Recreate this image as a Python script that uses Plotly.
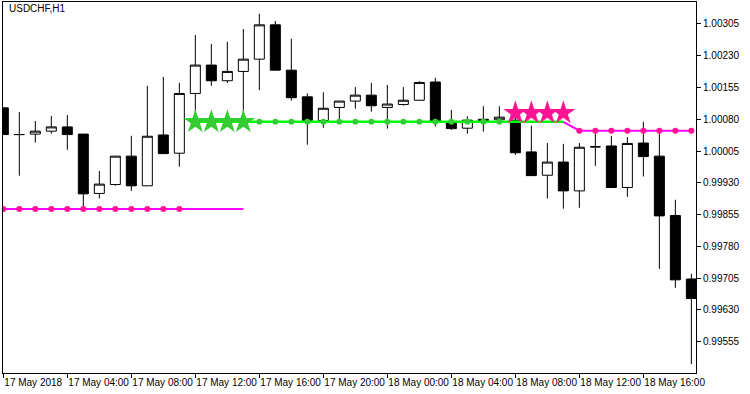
import plotly.graph_objects as go

# ---- data (H1 bars, index 0 = 17 May 2018 00:00) ----
bar_index = list(range(44))
opens = [1.00107, 1.00044, 1.00045, 1.00052, 1.00062, 1.00045, 0.99905, 0.99926, 0.99993, 0.99923,
         1.00043, 1.00000, 1.00141, 1.00208, 1.00171, 1.00193, 1.00222, 1.00303, 1.00196, 1.00133,
         1.00077, 1.00108, 1.00123, 1.00137, 1.00108, 1.00115, 1.00125, 1.00168, 1.00074, 1.00059,
         1.00080, 1.00079, 1.00078, 1.00003, 0.99948, 0.99979, 0.99911, 1.00015, 1.00017, 0.99919,
         1.00024, 0.99993, 0.99853, 0.99703]
highs = [1.00107, 1.00097, 1.00076, 1.00088, 1.00090, 1.00045, 0.99958, 0.99993, 1.00041, 1.00159,
         1.00180, 1.00166, 1.00279, 1.00258, 1.00263, 1.00293, 1.00329, 1.00312, 1.00270, 1.00141,
         1.00144, 1.00123, 1.00156, 1.00166, 1.00161, 1.00156, 1.00170, 1.00178, 1.00102, 1.00087,
         1.00111, 1.00111, 1.00102, 1.00065, 1.00024, 1.00022, 1.00024, 1.00052, 1.00041, 1.00038,
         1.00074, 1.00048, 0.99890, 0.99715]
lows = [1.00044, 0.99947, 1.00025, 1.00046, 1.00008, 0.99874, 0.99893, 0.99923, 0.99911, 0.99923,
        0.99999, 0.99968, 1.00083, 1.00159, 1.00166, 1.00085, 1.00149, 1.00195, 1.00124, 1.00020,
        1.00060, 1.00076, 1.00105, 1.00098, 1.00058, 1.00112, 1.00125, 1.00063, 1.00055, 1.00046,
        1.00051, 1.00076, 0.99996, 0.99947, 0.99893, 0.99869, 0.99871, 0.99970, 0.99919, 0.99897,
        0.99945, 0.99727, 0.99682, 0.99502]
closes = [1.00044, 1.00044, 1.00052, 1.00062, 1.00044, 0.99904, 0.99927, 0.99993, 0.99923, 1.00040,
          0.99999, 1.00141, 1.00208, 1.00171, 1.00193, 1.00222, 1.00303, 1.00196, 1.00131, 1.00077,
          1.00106, 1.00123, 1.00137, 1.00112, 1.00116, 1.00125, 1.00167, 1.00074, 1.00058, 1.00078,
          1.00074, 1.00085, 1.00001, 0.99947, 0.99979, 0.99911, 1.00014, 1.00015, 0.99919, 1.00023,
          0.99992, 0.99852, 0.99701, 0.99657]

# indicator lines
down1_bars = list(range(0, 16))
down1_vals = [0.99868, 0.99868, 0.99868, 0.99868, 0.99868, 0.99868, 0.99868, 0.99868,
              0.99868, 0.99868, 0.99868, 0.99868, 0.99868, 0.99868, 0.99868, 0.99868]
down1_dots = list(range(0, 12))
up_bars = list(range(12, 36))
up_vals = [1.00074, 1.00074, 1.00074, 1.00074, 1.00074, 1.00074, 1.00074, 1.00074,
           1.00074, 1.00074, 1.00074, 1.00074, 1.00074, 1.00074, 1.00074, 1.00074,
           1.00074, 1.00074, 1.00074, 1.00074, 1.00074, 1.00074, 1.00074, 1.00074]
up_dots = list(range(16, 32))
down2_bars = list(range(35, 44))
down2_vals = [1.00074, 1.00053, 1.00053, 1.00053, 1.00053, 1.00053, 1.00053, 1.00053, 1.00053]
down2_dots = list(range(36, 44))
up_star_bars = [12, 13, 14, 15]
up_star_vals = [1.00074, 1.00074, 1.00074, 1.00074]
down_star_bars = [32, 33, 34, 35]
down_star_vals = [1.00095, 1.00095, 1.00095, 1.00095]

tick_bars = [0, 4, 8, 12, 16, 20, 24, 28, 32, 36, 40]
tick_labels = ["17 May 2018", "17 May 04:00", "17 May 08:00", "17 May 12:00", "17 May 16:00",
               "17 May 20:00", "18 May 00:00", "18 May 04:00", "18 May 08:00", "18 May 12:00",
               "18 May 16:00"]
price_ticks = [1.00305, 1.00230, 1.00155, 1.00080, 1.00005, 0.99930, 0.99855, 0.99780,
               0.99705, 0.99630, 0.99555]

GREEN_LINE = "#00FF00"
GREEN_MARK = "#32CD32"
MAG_LINE = "#FF00FF"
MAG_MARK = "#FF1493"

fig = go.Figure()
fig.add_trace(go.Candlestick(
    x=bar_index, open=opens, high=highs, low=lows, close=closes,
    increasing=dict(fillcolor="white", line=dict(color="black", width=1)),
    decreasing=dict(fillcolor="black", line=dict(color="black", width=1)),
    whiskerwidth=0, showlegend=False, hoverinfo="skip"))

def pick(bars, vals, sel):
    m = dict(zip(bars, vals))
    return [m[b] for b in sel]

fig.add_trace(go.Scatter(x=down1_bars, y=down1_vals, mode="lines",
                         line=dict(color=MAG_LINE, width=2), showlegend=False, hoverinfo="skip"))
fig.add_trace(go.Scatter(x=up_bars, y=up_vals, mode="lines",
                         line=dict(color=GREEN_LINE, width=2.5), showlegend=False, hoverinfo="skip"))
fig.add_trace(go.Scatter(x=down2_bars, y=down2_vals, mode="lines",
                         line=dict(color=MAG_LINE, width=2), showlegend=False, hoverinfo="skip"))
fig.add_trace(go.Scatter(x=down1_dots, y=pick(down1_bars, down1_vals, down1_dots), mode="markers",
                         marker=dict(color=MAG_MARK, size=6), showlegend=False, hoverinfo="skip"))
fig.add_trace(go.Scatter(x=up_dots, y=pick(up_bars, up_vals, up_dots), mode="markers",
                         marker=dict(color=GREEN_MARK, size=6), showlegend=False, hoverinfo="skip"))
fig.add_trace(go.Scatter(x=down2_dots, y=pick(down2_bars, down2_vals, down2_dots), mode="markers",
                         marker=dict(color=MAG_MARK, size=6), showlegend=False, hoverinfo="skip"))
fig.add_trace(go.Scatter(x=up_star_bars, y=up_star_vals, mode="markers",
                         marker=dict(symbol="star", color=GREEN_MARK, size=18, line=dict(width=0)),
                         showlegend=False, hoverinfo="skip"))
fig.add_trace(go.Scatter(x=down_star_bars, y=down_star_vals, mode="markers",
                         marker=dict(symbol="star", color=MAG_MARK, size=18, line=dict(width=0)),
                         showlegend=False, hoverinfo="skip"))

FONT = dict(family="Liberation Sans, Arial, sans-serif", size=10, color="black")

fig.update_layout(
    width=750, height=394,
    margin=dict(l=3, r=54, t=2, b=21, autoexpand=False),
    paper_bgcolor="white", plot_bgcolor="white",
    font=FONT,
    boxgap=0.375, boxgroupgap=0,
    showlegend=False,
    xaxis=dict(range=[-0.02, 43.29], rangeslider=dict(visible=False),
               tickmode="array", tickvals=tick_bars, ticktext=tick_labels,
               tickangle=0, automargin=False,
               ticks="outside", ticklen=4, tickcolor="black", tickwidth=1,
               ticklabelposition="outside right",
               showgrid=False, zeroline=False, showline=True, linecolor="black",
               linewidth=1, mirror=True, tickfont=FONT),
    yaxis=dict(range=[0.994811, 1.003569], side="right", automargin=False,
               tickmode="array", tickvals=price_ticks,
               ticktext=["%.5f" % v for v in price_ticks],
               ticks="outside", ticklen=4, tickcolor="black", tickwidth=1,
               showgrid=False, zeroline=False, showline=True, linecolor="black",
               linewidth=1, mirror=True, tickfont=FONT),
    annotations=[dict(text="USDCHF,H1", xref="paper", yref="paper",
                      x=4 / 693, y=1 - 7 / 371, xanchor="left", yanchor="middle",
                      showarrow=False, font=FONT)],
)

fig.write_html("out.html")
